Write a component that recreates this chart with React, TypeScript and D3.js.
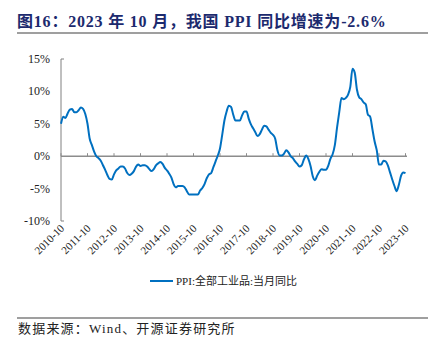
import React from "react";
import * as d3 from "d3";

const years = [2010, 2011, 2012, 2013, 2014, 2015, 2016, 2017, 2018, 2019, 2020, 2021, 2022, 2023];
const xTickLabels = years.map((y) => `${y}-10`);
const yTicks = [15, 10, 5, 0, -5, -10];

// Monthly PPI YoY (%), 2010-10 .. 2023-10
const ppi2010 = [5.0, 6.1, 5.9];
const ppi2011 = [6.6, 7.2, 7.3, 6.8, 6.8, 7.1, 7.5, 7.3, 6.5, 5.0, 2.7, 1.7];
const ppi2012 = [0.7, 0.0, -0.3, -0.7, -1.4, -2.1, -2.9, -3.5, -3.6, -2.8, -2.2, -1.9];
const ppi2013 = [-1.6, -1.6, -1.9, -2.6, -2.9, -2.7, -2.3, -1.6, -1.3, -1.5, -1.4, -1.4];
const ppi2014 = [-1.6, -2.0, -2.3, -2.0, -1.4, -1.1, -0.9, -1.2, -1.8, -2.2, -2.7, -3.3];
const ppi2015 = [-4.3, -4.8, -4.6, -4.6, -4.6, -4.8, -5.4, -5.9, -5.9, -5.9, -5.9, -5.9];
const ppi2016 = [-5.3, -4.9, -4.3, -3.4, -2.8, -2.6, -1.7, -0.8, 0.1, 1.2, 3.3, 5.5];
const ppi2017 = [6.9, 7.8, 7.6, 6.4, 5.5, 5.5, 5.5, 6.3, 6.9, 6.9, 5.8, 4.9];
const ppi2018 = [4.3, 3.7, 3.1, 3.4, 4.1, 4.7, 4.6, 4.1, 3.6, 3.3, 2.7, 0.9];
const ppi2019 = [0.1, 0.1, 0.4, 0.9, 0.6, 0.0, -0.3, -0.8, -1.2, -1.6, -1.4, -0.5];
const ppi2020 = [0.1, -0.4, -1.5, -3.1, -3.7, -3.0, -2.4, -2.0, -2.1, -2.1, -1.5, -0.4];
const ppi2021 = [0.3, 1.7, 4.4, 6.8, 9.0, 8.8, 9.0, 9.5, 10.7, 13.5, 12.9, 10.3];
const ppi2022 = [9.1, 8.8, 8.3, 8.0, 6.4, 6.1, 4.2, 2.3, 0.9, -1.3, -1.3, -0.7];
const ppi2023 = [-0.8, -1.4, -2.5, -3.6, -4.6, -5.4, -4.4, -3.0, -2.5, -2.6];

const ppiValues = [
  ...ppi2010, ...ppi2011, ...ppi2012, ...ppi2013, ...ppi2014, ...ppi2015, ...ppi2016,
  ...ppi2017, ...ppi2018, ...ppi2019, ...ppi2020, ...ppi2021, ...ppi2022, ...ppi2023,
];

const title = "图16：2023 年 10 月，我国 PPI 同比增速为-2.6%";
const legendLabel = "PPI:全部工业品:当月同比";
const source = "数据来源：Wind、开源证券研究所";

export default function App() {
  const W = 445, H = 346;
  const x0 = 61, x1 = 405.5;
  const x = d3.scaleLinear().domain([0, 156]).range([x0, x1]);
  const y = d3.scaleLinear().domain([-10, 15]).range([221, 59]);
  const line = d3
    .line<number>()
    .x((_, i) => x(i))
    .y((d) => y(d))
    .curve(d3.curveMonotoneX);
  const serif = "'Liberation Serif', 'Times New Roman', 'Noto Sans CJK SC', serif";
  const cjk = "'Liberation Serif', 'Noto Sans CJK SC', serif";
  return (
    <svg width={W} height={H} style={{ position: "absolute", left: 0, top: 0, background: "#fff" }}>
      <text x={17} y={27} fontSize={16} fontWeight="bold" fill="#1c2a6e" fontFamily={cjk} letterSpacing={0.8}>
        {title}
      </text>
      <line x1={17} x2={428} y1={33} y2={33} stroke="#7f7f7f" strokeWidth={1.5} />

      {/* y axis */}
      <line x1={x0} x2={x0} y1={y(15)} y2={y(-10)} stroke="#808080" strokeWidth={1} />
      <line x1={x0} x2={x0 + 3} y1={y(15)} y2={y(15)} stroke="#808080" strokeWidth={1} />
      <line x1={x0} x2={x0 + 3} y1={y(-10)} y2={y(-10)} stroke="#808080" strokeWidth={1} />
      {yTicks.map((t) => (
        <text key={t} x={50} y={y(t) + 4} textAnchor="end" fontSize={12} fill="#222" fontFamily={serif}>
          {`${t}%`}
        </text>
      ))}

      {/* zero line */}
      <line x1={x0} x2={407} y1={y(0)} y2={y(0)} stroke="#8c8c8c" strokeWidth={1.5} />
      {xTickLabels.map((lab, i) => {
        const xi = x(i * 12);
        return (
          <g key={lab}>
            <line x1={xi} x2={xi} y1={y(0)} y2={y(0) - 3} stroke="#8c8c8c" strokeWidth={1} />
            <text
              transform={`translate(${xi + 4},${229}) rotate(-45)`}
              textAnchor="end"
              fontSize={11}
              fill="#222"
              fontFamily={serif}
            >
              {lab}
            </text>
          </g>
        );
      })}

      <path d={line(ppiValues) ?? ""} fill="none" stroke="#0070c0" strokeWidth={2} />

      {/* legend */}
      <line x1={150} x2={173} y1={281} y2={281} stroke="#0070c0" strokeWidth={2} />
      <text x={176} y={285} fontSize={11} fill="#222" fontFamily={cjk}>
        {legendLabel}
      </text>

      <line x1={17} x2={428} y1={318} y2={318} stroke="#7f7f7f" strokeWidth={1.5} />
      <text x={18} y={333} fontSize={13} fill="#222" fontFamily={cjk} letterSpacing={1.2}>
        {source}
      </text>
    </svg>
  );
}
